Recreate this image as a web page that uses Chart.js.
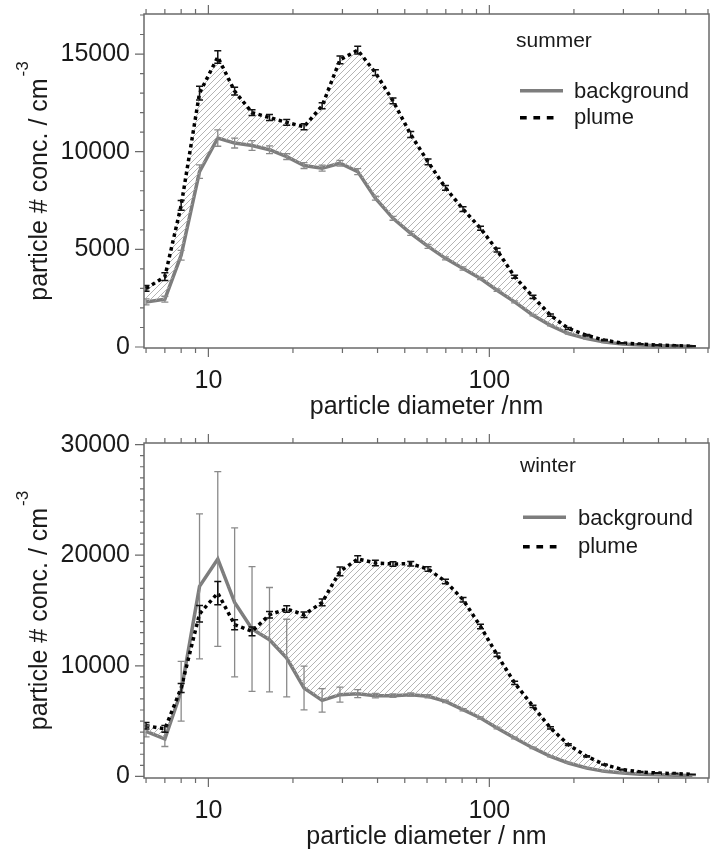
<!DOCTYPE html>
<html>
<head>
<meta charset="utf-8">
<script src="https://cdn.jsdelivr.net/npm/chart.js@4.4.0/dist/chart.umd.min.js"></script>
<style>
    body { margin: 0; background: #fff; }
    canvas { position: absolute; left: 0; }
    #graficoEstate { top: 0; }
    #graficoInverno { top: 425px; }
</style>
</head>
<body>
<canvas id="graficoEstate" width="710" height="425"></canvas>
<canvas id="graficoInverno" width="710" height="427"></canvas>
<script>
// diametri (nm), stessi canali per estate e inverno
const diametri = [6.0, 7.0, 8.0, 9.3, 10.8, 12.4, 14.3, 16.5, 19.0, 21.9, 25.4, 29.4, 34.0, 39.3, 45.4, 52.5,
    60.5, 69.8, 80.6, 93.0, 106.5, 123, 143, 165, 191, 222, 257, 298, 344, 397, 458, 528];

// estate
const estatePlume = [3000, 3600, 7250, 13000, 14850, 13100, 12000, 11750, 11500, 11280, 12350, 14700, 15200, 14050, 12600, 10880,
    9480, 8150, 7060, 6080, 4960, 3600, 2570, 1630, 950, 600, 350, 200, 150, 100, 70, 40];
const estatePlumeErr = [150, 200, 250, 350, 320, 200, 150, 150, 150, 150, 150, 200, 200, 150, 150, 150,
    150, 120, 120, 100, 100, 80, 80, 60, 50, 40, 30, 20, 20, 20, 20, 20];
const estateFondo = [2310, 2450, 4700, 8980, 10700, 10440, 10320, 10100, 9750, 9290, 9160, 9410, 8980, 7620, 6590, 5820,
    5150, 4540, 4020, 3510, 2910, 2310, 1630, 1110, 690, 430, 250, 150, 100, 70, 50, 30];
const estateFondoErr = [150, 150, 250, 350, 420, 250, 250, 200, 150, 150, 150, 150, 150, 100, 100, 100,
    100, 80, 80, 60, 60, 50, 40, 30, 30, 20, 20, 10, 10, 10, 10, 10];

// inverno
const invernoPlume = [4580, 4290, 7990, 14700, 16580, 13720, 13110, 14620, 15140, 14620, 15730, 18540, 19660, 19300, 19210, 19230,
    18750, 17630, 15980, 13560, 11000, 8450, 6330, 4380, 2870, 1810, 1060, 610, 400, 300, 250, 180];
const invernoPlumeErr = [300, 300, 400, 750, 1050, 450, 400, 300, 300, 250, 300, 400, 300, 250, 200, 200,
    200, 200, 200, 200, 150, 150, 100, 100, 80, 60, 40, 30, 30, 20, 20, 20];
const invernoFondo = [4070, 3380, 7690, 17180, 19660, 15730, 13330, 12360, 10700, 7990, 6870, 7390, 7480, 7300, 7300, 7390,
    7240, 6780, 6030, 5280, 4380, 3470, 2570, 1810, 1210, 760, 450, 300, 200, 150, 100, 80];
const invernoFondoErr = [500, 680, 2700, 6560, 7900, 6740, 5640, 4720, 3510, 1980, 1060, 680, 360, 200, 150, 150,
    150, 120, 100, 100, 80, 80, 60, 50, 40, 30, 20, 20, 10, 10, 10, 10];

// tacche
const xTaccheMaggiori = [10, 100];
const xTaccheMinori = [6, 7, 8, 9, 20, 30, 40, 50, 60, 70, 80, 90, 200, 300, 400, 500, 600];
const yTaccheEstate = [0, 5000, 10000, 15000];
const yTaccheInverno = [0, 10000, 20000, 30000];

const FONT = "'Liberation Sans', Arial, sans-serif";
const GRIGIO = '#7d7d7d';

function tratteggio() {
    const c = document.createElement('canvas');
    c.width = 6; c.height = 6;
    const g = c.getContext('2d');
    g.strokeStyle = '#ababab';
    g.lineWidth = 0.9;
    g.beginPath();
    g.moveTo(0, 6); g.lineTo(6, 0);
    g.moveTo(-1, 1); g.lineTo(1, -1);
    g.moveTo(5, 7); g.lineTo(7, 5);
    g.stroke();
    return g.createPattern(c, 'repeat');
}

const decorazioni = {
    id: 'decorazioni',
    afterDatasetsDraw(chart, args, cfg) {
        const ctx = chart.ctx;
        const xs = chart.scales.x, ys = chart.scales.y;
        const area = chart.chartArea;
        ctx.save();
        ctx.beginPath();
        ctx.rect(area.left, area.top, area.right - area.left, area.bottom - area.top);
        ctx.clip();
        // prima il fondo (grigio), poi plume (nero)
        [1, 0].forEach(i => {
            const punti = chart.data.datasets[i].data;
            const err = cfg.errori[i];
            ctx.strokeStyle = i === 0 ? '#111' : '#8a8a8a';
            ctx.lineWidth = i === 0 ? 1.5 : 1.3;
            punti.forEach((p, k) => {
                const px = xs.getPixelForValue(p.x);
                const y1 = ys.getPixelForValue(p.y - err[k]);
                const y2 = ys.getPixelForValue(p.y + err[k]);
                ctx.beginPath();
                ctx.moveTo(px, y1); ctx.lineTo(px, y2);
                ctx.moveTo(px - 3.5, y1); ctx.lineTo(px + 3.5, y1);
                ctx.moveTo(px - 3.5, y2); ctx.lineTo(px + 3.5, y2);
                ctx.stroke();
            });
        });
        ctx.restore();
    },
    afterDraw(chart, args, cfg) {
        const ctx = chart.ctx;
        const xs = chart.scales.x, ys = chart.scales.y;
        const a = chart.chartArea;
        ctx.save();
        // cornice
        ctx.strokeStyle = '#6a6a6a';
        ctx.lineWidth = 1.5;
        ctx.strokeRect(a.left, a.top, a.right - a.left, a.bottom - a.top);
        // tacche x sopra e sotto
        ctx.lineWidth = 1.2;
        ctx.beginPath();
        xTaccheMaggiori.concat(xTaccheMinori).forEach(v => {
            const px = xs.getPixelForValue(v);
            if (px < a.left - 0.5 || px > a.right + 0.5) return;
            const l = xTaccheMaggiori.includes(v) ? 9 : 5;
            ctx.moveTo(px, a.bottom); ctx.lineTo(px, a.bottom + l);
            ctx.moveTo(px, a.top); ctx.lineTo(px, a.top - l);
        });
        // tacche y
        for (let v = 0; v <= ys.max; v += 1000) {
            const py = ys.getPixelForValue(v);
            const l = v % cfg.passoMaggiore === 0 ? 9 : 4;
            ctx.moveTo(a.left, py); ctx.lineTo(a.left - l, py);
        }
        ctx.stroke();

        // titolo asse y con esponente
        ctx.fillStyle = '#1a1a1a';
        const cy = (a.top + a.bottom) / 2;
        ctx.translate(46.5, cy);
        ctx.rotate(-Math.PI / 2);
        const testo = 'particle # conc. / cm';
        ctx.font = '25px ' + FONT;
        const w1 = ctx.measureText(testo).width;
        ctx.font = '17px ' + FONT;
        const w2 = ctx.measureText('-3').width;
        const inizio = -(w1 + w2 + 2) / 2;
        ctx.textAlign = 'left';
        ctx.textBaseline = 'alphabetic';
        ctx.font = '25px ' + FONT;
        ctx.fillText(testo, inizio, 0);
        ctx.font = '17px ' + FONT;
        ctx.fillText('-3', inizio + w1 + 2, -19);
        ctx.setTransform(1, 0, 0, 1, 0, 0);

        // legenda
        const L = cfg.legenda;
        ctx.font = '21px ' + FONT;
        ctx.fillText(L.stagione, L.sx, L.sy);
        ctx.strokeStyle = GRIGIO;
        ctx.lineWidth = 3.5;
        ctx.beginPath();
        ctx.moveTo(L.lx, L.y1); ctx.lineTo(L.lx + 43, L.y1);
        ctx.stroke();
        ctx.strokeStyle = '#000';
        ctx.setLineDash([6.7, 6.7]);
        ctx.beginPath();
        ctx.moveTo(L.lx, L.y2); ctx.lineTo(L.lx + 34, L.y2);
        ctx.stroke();
        ctx.setLineDash([]);
        ctx.font = '22px ' + FONT;
        ctx.fillText('background', L.tx, L.y1 + 7.5);
        ctx.fillText('plume', L.tx, L.y2 + 6.5);
        ctx.restore();
    }
};

function creaGrafico(id, plume, plumeErr, fondo, fondoErr, opz) {
    const ctx = document.getElementById(id).getContext('2d');
    return new Chart(ctx, {
        type: 'line',
        data: {
            datasets: [
                {
                    label: 'plume',
                    data: diametri.map((d, i) => ({ x: d, y: plume[i] })),
                    borderColor: '#000',
                    borderWidth: 3.5,
                    borderDash: [3.5, 3.5],
                    pointRadius: 0,
                    tension: 0,
                    fill: { target: '+1', above: tratteggio(), below: 'rgba(0,0,0,0)' }
                },
                {
                    label: 'background',
                    data: diametri.map((d, i) => ({ x: d, y: fondo[i] })),
                    borderColor: GRIGIO,
                    borderWidth: 3.5,
                    pointRadius: 0,
                    tension: 0,
                    fill: false
                }
            ]
        },
        options: {
            responsive: false,
            animation: false,
            layout: { padding: { top: opz.alto, right: 1, left: 0, bottom: 0 } },
            scales: {
                x: {
                    type: 'logarithmic',
                    min: 5.9,
                    max: 605,
                    afterFit: (asse) => {
                        asse.height = opz.altezzaX;
                        asse.paddingLeft = 0; asse.paddingRight = 0;
                    },
                    afterBuildTicks: (asse) => { asse.ticks = xTaccheMaggiori.map(v => ({ value: v })); },
                    grid: { display: false, drawTicks: false },
                    border: { display: false },
                    ticks: {
                        autoSkip: false, maxRotation: 0, padding: 21, color: '#1a1a1a',
                        font: { family: FONT, size: 25, lineHeight: 1 },
                        callback: (v) => String(v)
                    },
                    title: {
                        display: true, text: opz.titoloX, color: '#1a1a1a',
                        font: { family: FONT, size: 25, lineHeight: 1.2 },
                        padding: { top: 0, bottom: opz.titoloPad }
                    }
                },
                y: {
                    min: opz.yMin,
                    max: opz.yMax,
                    afterFit: (asse) => {
                        asse.width = 144;
                        asse.paddingTop = 0; asse.paddingBottom = 0;
                    },
                    afterBuildTicks: (asse) => { asse.ticks = opz.yTacche.map(v => ({ value: v })); },
                    grid: { display: false, drawTicks: false },
                    border: { display: false },
                    ticks: {
                        padding: 14, color: '#1a1a1a',
                        font: { family: FONT, size: 25, lineHeight: 1 },
                        callback: (v) => String(v)
                    }
                }
            },
            plugins: {
                legend: { display: false },
                tooltip: { enabled: false },
                decorazioni: {
                    errori: [plumeErr, fondoErr],
                    passoMaggiore: opz.passo,
                    legenda: opz.legenda
                }
            }
        },
        plugins: [decorazioni]
    });
}

creaGrafico('graficoEstate', estatePlume, estatePlumeErr, estateFondo, estateFondoErr, {
    alto: 14, altezzaX: 77, titoloX: 'particle diameter /nm', titoloPad: 3,
    yMin: -50, yMax: 17050, yTacche: yTaccheEstate, passo: 5000,
    legenda: { stagione: 'summer', sx: 516, sy: 46.7, lx: 520, tx: 574, y1: 90.7, y2: 117.7 }
});
creaGrafico('graficoInverno', invernoPlume, invernoPlumeErr, invernoFondo, invernoFondoErr, {
    alto: 18, altezzaX: 74, titoloX: 'particle diameter / nm', titoloPad: 0,
    yMin: -150, yMax: 30150, yTacche: yTaccheInverno, passo: 10000,
    legenda: { stagione: 'winter', sx: 520, sy: 46.7, lx: 523, tx: 578, y1: 92.3, y2: 121.7 }
});
</script>
</body>
</html>
